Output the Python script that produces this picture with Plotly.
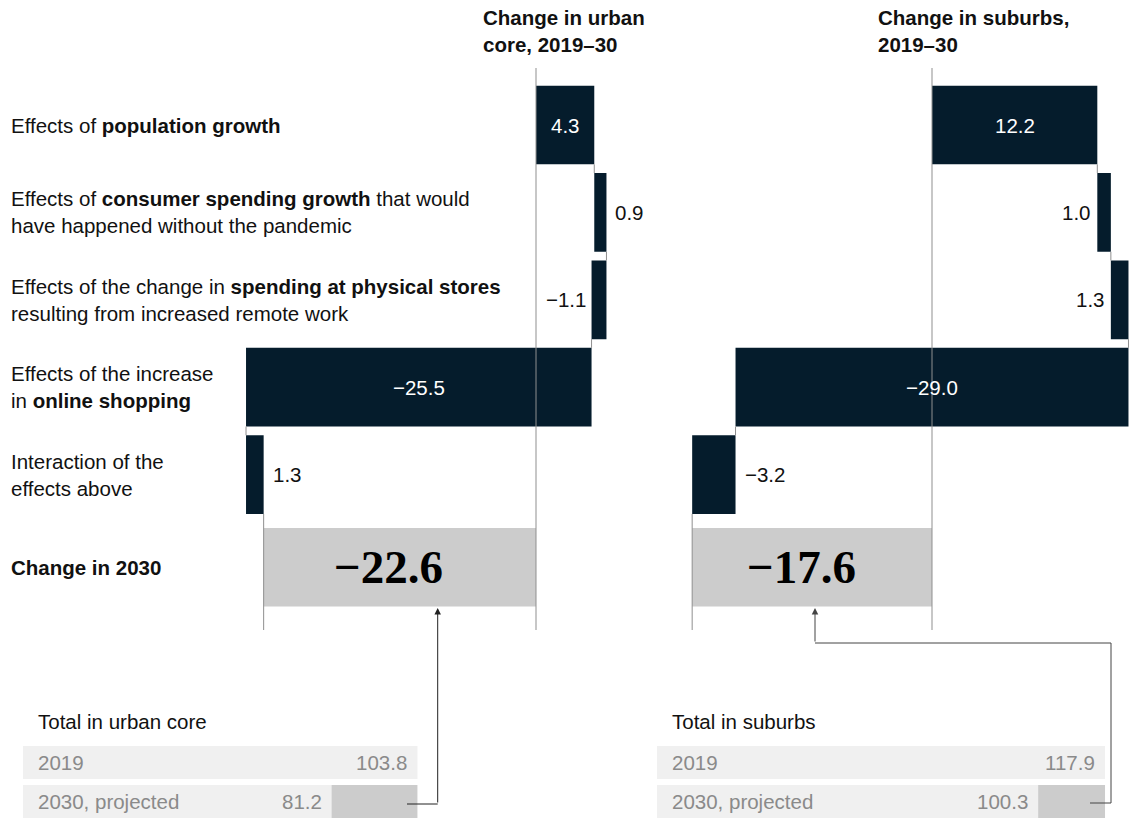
import plotly.graph_objects as go

W, H = 1131, 818

# ---------------- data ----------------
row_labels = [
    "Effects of <b>population growth</b>",
    "Effects of <b>consumer spending growth</b> that would<br>have happened without the pandemic",
    "Effects of the change in <b>spending at physical stores</b><br>resulting from increased remote work",
    "Effects of the increase<br>in <b>online shopping</b>",
    "Interaction of the<br>effects above",
    "<b>Change in 2030</b>",
]
urban_steps = [4.3, 0.9, -1.1, -25.5, 1.3]
suburb_steps = [12.2, 1.0, 1.3, -29.0, -3.2]
urban_change_2030 = -22.6
suburb_change_2030 = -17.6
panel_titles = ["<b>Change in urban<br>core, 2019–30</b>", "<b>Change in suburbs,<br>2019–30</b>"]
table_titles = ["Total in urban core", "Total in suburbs"]
table_rows = ["2019", "2030, projected"]
urban_totals = [103.8, 81.2]
suburb_totals = [117.9, 100.3]

# ---------------- style / geometry ----------------
NAVY = "#051c2c"
GREY_BAR = "#cccccc"
LIGHT = "#f0f0f0"
AXIS_GREY = "#8f8f8f"
TEXT = "#111111"
MUTED = "#8a8a8a"
FONT = "Liberation Sans, Arial, sans-serif"
SERIF = "Liberation Serif, Times New Roman, serif"
FS = 20.5

PX_PER_UNIT = 13.55
ZERO_PX = [536, 932]
ROW0_PX, ROW_PITCH = 125, 87.4
TOTAL_ROW = 5.06
AXIS_TOP = (68 - ROW0_PX) / ROW_PITCH
AXIS_BOTTOM = (630 - ROW0_PX) / ROW_PITCH
BAR_W = 0.9
TABLE_SCALE = 3.8
TABLE_START_PX = [23, 657]
TABLE_ROW0_PX, TABLE_PITCH = 762.5, 39
TABLE_BAR_W = 33 / 39

label_sides = [
    ["inside", "right", "left", "inside", "right"],
    ["inside", "left", "left", "inside", "right"],
]


def fmt(v):
    return f"{v:.1f}".replace("-", "\u2212")


def px(x):
    return x / W


def py(y):
    return 1 - y / H


fig = go.Figure()
annotations = []
shapes = []

panels = [
    (urban_steps, urban_change_2030, "x", label_sides[0]),
    (suburb_steps, suburb_change_2030, "x2", label_sides[1]),
]

for steps, total_label, xa, sides in panels:
    starts, ends = [], []
    c = 0.0
    for s in steps:
        starts.append(c)
        c = round(c + s, 6)
        ends.append(c)
    # zero line
    fig.add_trace(go.Scatter(x=[0, 0], y=[AXIS_TOP, AXIS_BOTTOM], mode="lines",
                             line=dict(color=AXIS_GREY, width=1), xaxis=xa, yaxis="y",
                             hoverinfo="skip", showlegend=False))
    # connectors
    cx, cy = [], []
    for i in range(len(steps) - 1):
        cx += [ends[i], ends[i], None]
        cy += [i + BAR_W / 2, i + 1 - BAR_W / 2, None]
    cx += [ends[-1], ends[-1]]
    cy += [len(steps) - 1 + BAR_W / 2, AXIS_BOTTOM]
    fig.add_trace(go.Scatter(x=cx, y=cy, mode="lines", line=dict(color=AXIS_GREY, width=1),
                             xaxis=xa, yaxis="y", hoverinfo="skip", showlegend=False))
    # step bars
    fig.add_trace(go.Bar(orientation="h", y=list(range(len(steps))), x=steps, base=starts,
                         width=BAR_W, marker=dict(color=NAVY, line=dict(width=0)),
                         xaxis=xa, yaxis="y", showlegend=False, hoverinfo="skip"))
    # total bar
    fig.add_trace(go.Bar(orientation="h", y=[TOTAL_ROW], x=[ends[-1]], base=[0],
                         width=BAR_W, marker=dict(color=GREY_BAR, line=dict(width=0)),
                         xaxis=xa, yaxis="y", showlegend=False, hoverinfo="skip"))
    # step labels
    for i, (s, a, b, side) in enumerate(zip(steps, starts, ends, sides)):
        lo, hi = min(a, b), max(a, b)
        if side == "inside":
            annotations.append(dict(x=(a + b) / 2, y=i, xref=xa, yref="y", text=fmt(s),
                                    showarrow=False, xanchor="center",
                                    font=dict(family=FONT, size=FS, color="white")))
        elif side == "right":
            annotations.append(dict(x=hi, y=i, xref=xa, yref="y", text=fmt(s),
                                    showarrow=False, xanchor="left", xshift=7,
                                    font=dict(family=FONT, size=FS, color=TEXT)))
        else:
            annotations.append(dict(x=lo, y=i, xref=xa, yref="y", text=fmt(s),
                                    showarrow=False, xanchor="right", xshift=-4,
                                    font=dict(family=FONT, size=FS, color=TEXT)))
    annotations.append(dict(x=ends[-1] / 2, y=TOTAL_ROW, xref=xa, yref="y",
                            text="<b>" + fmt(total_label) + "</b>",
                            showarrow=False, xanchor="center", xshift=-11,
                            font=dict(family=SERIF, size=47, color="#000000")))

# row labels
for i, lab in enumerate(row_labels):
    yy = TOTAL_ROW if i == len(row_labels) - 1 else i
    annotations.append(dict(x=px(9), y=yy, xref="paper", yref="y", text=lab, showarrow=False,
                            xanchor="left", yanchor="middle", align="left",
                            font=dict(family=FONT, size=FS, color=TEXT)))

# panel titles
for title, xp in zip(panel_titles, [481, 876]):
    annotations.append(dict(x=px(xp), y=py(4), xref="paper", yref="paper", text=title,
                            showarrow=False, xanchor="left", yanchor="top", align="left",
                            font=dict(family=FONT, size=FS, color=TEXT)))

# bottom tables
for totals, title, xa in [(urban_totals, table_titles[0], "x3"), (suburb_totals, table_titles[1], "x4")]:
    fig.add_trace(go.Bar(orientation="h", y=[0, 1], x=totals, base=[0, 0], width=TABLE_BAR_W,
                         marker=dict(color=LIGHT, line=dict(width=0)), xaxis=xa, yaxis="y2",
                         showlegend=False, hoverinfo="skip"))
    fig.add_trace(go.Bar(orientation="h", y=[1], x=[totals[0] - totals[1]], base=[totals[1]],
                         width=TABLE_BAR_W, marker=dict(color=GREY_BAR, line=dict(width=0)),
                         xaxis=xa, yaxis="y2", showlegend=False, hoverinfo="skip"))
    annotations.append(dict(x=0, y=(721 - TABLE_ROW0_PX) / TABLE_PITCH, xref=xa, yref="y2",
                            text=title, showarrow=False, xanchor="left", xshift=13,
                            font=dict(family=FONT, size=FS, color=TEXT)))
    for j, (rl, v) in enumerate(zip(table_rows, totals)):
        annotations.append(dict(x=0, y=j, xref=xa, yref="y2", text=rl, showarrow=False,
                                xanchor="left", xshift=13,
                                font=dict(family=FONT, size=FS, color=MUTED)))
        annotations.append(dict(x=v, y=j, xref=xa, yref="y2", text=fmt(v), showarrow=False,
                                xanchor="right", xshift=-8,
                                font=dict(family=FONT, size=FS, color=MUTED)))

# leader arrows (decorative, pixel geometry)
LEADER = "#222222"
annotations.append(dict(x=px(437.7), y=py(608), xref="paper", yref="paper", text="",
                        showarrow=True, ax=0, ay=804 - 608, arrowhead=2, arrowsize=1.3,
                        arrowwidth=1, arrowcolor=LEADER, standoff=0))
shapes.append(dict(type="line", xref="paper", yref="paper", x0=px(407), y0=py(804),
                   x1=px(437.7), y1=py(804), line=dict(color=LEADER, width=1)))
annotations.append(dict(x=px(815), y=py(608), xref="paper", yref="paper", text="",
                        showarrow=True, ax=0, ay=643 - 608, arrowhead=2, arrowsize=1.3,
                        arrowwidth=1, arrowcolor="#444444", standoff=0))
shapes.append(dict(type="path", xref="paper", yref="paper",
                   path=f"M {px(815)},{py(643)} L {px(1111)},{py(643)} L {px(1111)},{py(803)} L {px(1090)},{py(803)}",
                   line=dict(color="#444444", width=1)))


def xr(zero_px, scale):
    return [(0 - zero_px) / scale, (W - zero_px) / scale]


hidden = dict(visible=False, showgrid=False, zeroline=False, fixedrange=True)
fig.update_layout(
    width=W, height=H,
    margin=dict(l=0, r=0, t=0, b=0),
    paper_bgcolor="white", plot_bgcolor="white",
    barmode="overlay",
    showlegend=False,
    xaxis=dict(domain=[0, 1], range=xr(ZERO_PX[0], PX_PER_UNIT), anchor="y", **hidden),
    xaxis2=dict(range=xr(ZERO_PX[1], PX_PER_UNIT), overlaying="x", anchor="y", **hidden),
    xaxis3=dict(range=xr(TABLE_START_PX[0], TABLE_SCALE), overlaying="x", anchor="y2", **hidden),
    xaxis4=dict(range=xr(TABLE_START_PX[1], TABLE_SCALE), overlaying="x", anchor="y2", **hidden),
    yaxis=dict(domain=[0, 1], range=[(H - ROW0_PX) / ROW_PITCH, -ROW0_PX / ROW_PITCH], anchor="x", **hidden),
    yaxis2=dict(range=[(H - TABLE_ROW0_PX) / TABLE_PITCH, -TABLE_ROW0_PX / TABLE_PITCH],
                overlaying="y", anchor="x3", **hidden),
    annotations=annotations,
    shapes=shapes,
    font=dict(family=FONT),
)

fig.write_html("out.html", config={"displayModeBar": False},
               post_script="document.body.style.margin='0px';document.body.style.overflow='hidden';")
